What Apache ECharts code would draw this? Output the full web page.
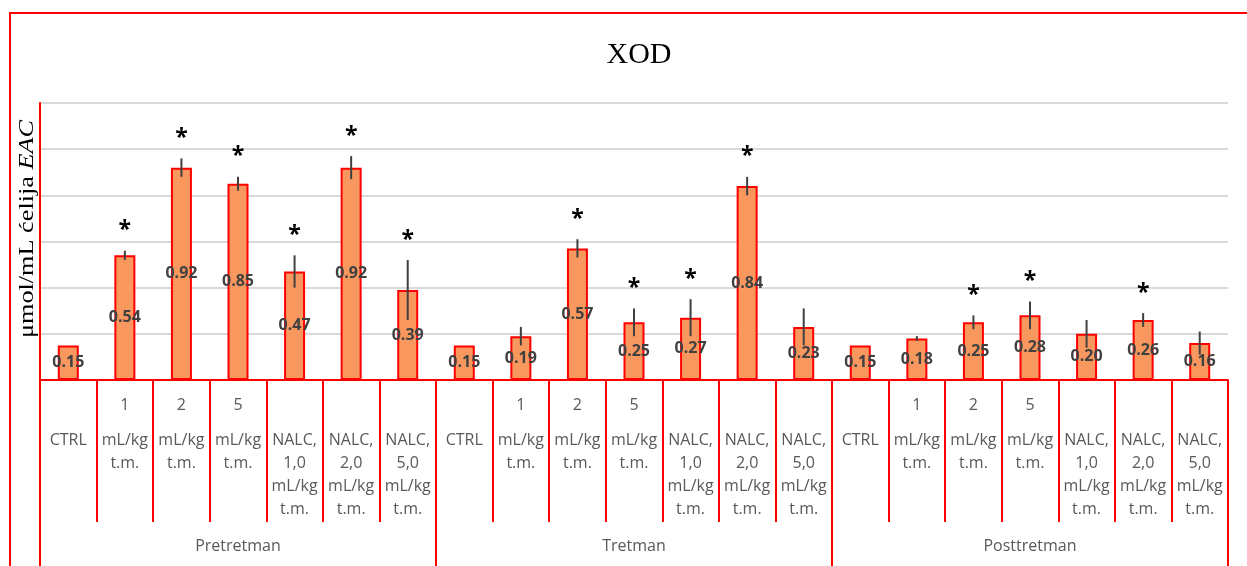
<!DOCTYPE html>
<html>
<head>
<meta charset="utf-8">
<title>XOD</title>
<script src="https://cdn.jsdelivr.net/npm/echarts@6/dist/echarts.min.js"></script>
<style>
  html, body { margin: 0; padding: 0; background: #fff; }
  #chart { width: 1247px; height: 566px; }
</style>
</head>
<body>
<div id="chart"></div>
<script>
// Treatment phases (outer category level)
const groups = ['Pretretman', 'Tretman', 'Posttretman'];
// Doses within each phase (inner category level)
const treatments = [
  'CTRL',
  '1 mL/kg t.m.',
  '2 mL/kg t.m.',
  '5 mL/kg t.m.',
  'NALC, 1,0 mL/kg t.m.',
  'NALC, 2,0 mL/kg t.m.',
  'NALC, 5,0 mL/kg t.m.'
];
// XOD activity, µmol/mL EAC cells (phase by phase)
const meanValues = [
  0.15, 0.54, 0.92, 0.85, 0.47, 0.92, 0.39,
  0.15, 0.19, 0.57, 0.25, 0.27, 0.84, 0.23,
  0.15, 0.18, 0.25, 0.28, 0.20, 0.26, 0.16
];
// Standard deviation
const errValues = [
  0.00, 0.02, 0.04, 0.03, 0.07, 0.05, 0.13,
  0.00, 0.04, 0.04, 0.06, 0.08, 0.04, 0.08,
  0.00, 0.01, 0.03, 0.06, 0.06, 0.03, 0.05
];
// Significant difference vs. control (1 = marked with *)
const significant = [
  0, 1, 1, 1, 1, 1, 1,
  0, 0, 1, 1, 1, 1, 0,
  0, 0, 1, 1, 0, 1, 0
];
// Value axis ticks
const yTicks = [0, 0.2, 0.4, 0.6, 0.8, 1.0, 1.2];

const RED = '#FF0000';
const LABEL_GREY = '#595959';
const SANS = '"Open Sans", "Liberation Sans", sans-serif';
const SERIF = '"Liberation Serif", "DejaVu Serif", serif';

const categories = [];
groups.forEach(() => treatments.forEach(t => categories.push(t)));

// Wrap a dose label into stacked lines; a leading dose number sits on its own row
function formatTreatment(label) {
  const words = label.split(' ');
  let head;
  if (/^\d+$/.test(words[0])) {
    head = '{n|' + words.shift() + '}\n{g| }';
  } else {
    head = '{s| }';
  }
  return head + '\n' + words.map(w => '{t|' + w + '}').join('\n');
}

const chart = echarts.init(document.getElementById('chart'), null, { renderer: 'canvas' });

const option = {
  animation: false,
  backgroundColor: '#ffffff',
  title: {
    text: 'XOD',
    left: 634,
    textAlign: 'center',
    top: 35,
    textStyle: { fontFamily: SERIF, fontSize: 30, fontWeight: 'normal', color: '#000' }
  },
  grid: { left: 40, right: 19, top: 103, bottom: 186, containLabel: false },
  graphic: [
    {
      type: 'rect',
      silent: true,
      z: 0,
      shape: { x: 10, y: 13, width: 1300, height: 640 },
      style: { fill: 'none', stroke: RED, lineWidth: 2 }
    },
    {
      // Value axis title, read bottom to top
      type: 'text',
      silent: true,
      x: 27,
      y: 229,
      rotation: Math.PI / 2,
      scaleX: 1.25,
      style: {
        text: '{a|μmol/mL ćelija }{b|EAC}',
        align: 'center',
        verticalAlign: 'middle',
        rich: {
          a: { fontFamily: SERIF, fontSize: 21, fill: '#000' },
          b: { fontFamily: SERIF, fontSize: 21, fontStyle: 'italic', fill: '#000' }
        }
      }
    }
  ],
  xAxis: [
    {
      type: 'category',
      data: categories,
      position: 'bottom',
      axisLine: { show: true, lineStyle: { color: RED, width: 2 } },
      axisTick: { show: true, interval: 0, length: 142, lineStyle: { color: RED, width: 2 } },
      axisLabel: {
        interval: 0,
        margin: 14,
        formatter: (v) => formatTreatment(v),
        rich: {
          n: { fontFamily: SANS, fontSize: 16, color: LABEL_GREY, lineHeight: 23 },
          g: { fontSize: 10, lineHeight: 12 },
          s: { fontSize: 10, lineHeight: 35 },
          t: { fontFamily: SANS, fontSize: 16, color: LABEL_GREY, lineHeight: 23 }
        }
      },
      splitLine: { show: false }
    },
    {
      type: 'category',
      data: groups,
      position: 'bottom',
      offset: 0,
      axisLine: { show: false },
      axisTick: { show: true, interval: 0, length: 186, lineStyle: { color: RED, width: 2 } },
      axisLabel: {
        interval: 0,
        margin: 158,
        fontFamily: SANS,
        fontSize: 16,
        color: LABEL_GREY
      },
      splitLine: { show: false }
    }
  ],
  yAxis: {
    type: 'value',
    min: yTicks[0],
    max: yTicks[yTicks.length - 1],
    interval: yTicks[1] - yTicks[0],
    axisLine: { show: true, lineStyle: { color: RED, width: 2 } },
    axisTick: { show: false },
    axisLabel: { show: false },
    splitLine: { show: true, lineStyle: { color: '#D9D9D9', width: 2 } }
  },
  series: [
    {
      name: 'XOD',
      type: 'bar',
      xAxisIndex: 0,
      data: meanValues,
      barWidth: 21,
      itemStyle: { color: '#F8985F', borderColor: RED, borderWidth: 2 },
      label: {
        show: true,
        position: 'inside',
        formatter: (p) => p.value.toFixed(2),
        fontFamily: SANS,
        fontSize: 16,
        fontWeight: 'bold',
        color: '#404040'
      },
      z: 2
    },
    {
      // Standard deviation whiskers and significance stars
      name: 'SD',
      type: 'custom',
      xAxisIndex: 0,
      data: meanValues.map((m, i) => [i, m, errValues[i], significant[i]]),
      renderItem: (params, api) => {
        const idx = api.value(0);
        const mean = api.value(1);
        const err = api.value(2);
        const sig = api.value(3);
        const hi = api.coord([idx, mean + err]);
        const lo = api.coord([idx, mean - err]);
        const children = [];
        if (err > 0) {
          children.push({
            type: 'line',
            shape: { x1: hi[0], y1: hi[1], x2: lo[0], y2: lo[1] },
            style: { stroke: '#404040', lineWidth: 2 }
          });
        }
        if (sig) {
          children.push({
            type: 'text',
            x: hi[0],
            y: hi[1] - 20,
            style: {
              text: '*',
              align: 'center',
              verticalAlign: 'middle',
              fontFamily: SANS,
              fontSize: 23,
              fontWeight: 'bold',
              fill: '#000'
            }
          });
        }
        return { type: 'group', children };
      },
      z: 3
    }
  ]
};

chart.setOption(option);
</script>
</body>
</html>
